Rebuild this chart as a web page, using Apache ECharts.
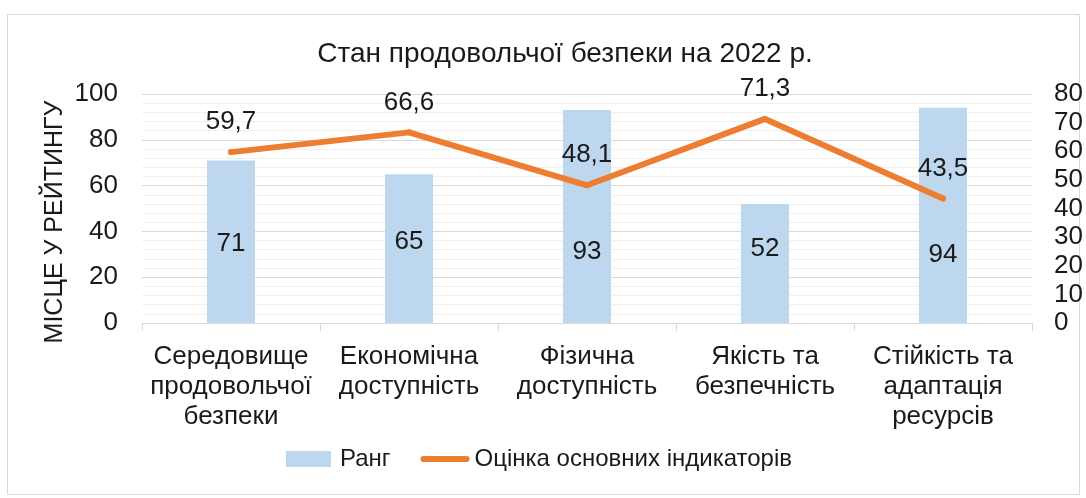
<!DOCTYPE html>
<html>
<head>
<meta charset="utf-8">
<script src="https://cdn.jsdelivr.net/npm/echarts@6/dist/echarts.min.js"></script>
<style>
html,body{margin:0;padding:0;background:#fff;}
#chart{width:1086px;height:498px;}
</style>
</head>
<body>
<div id="chart"></div>
<script>
const categories = [
  'Середовище\nпродовольчої\nбезпеки',
  'Економічна\nдоступність',
  'Фізична\nдоступність',
  'Якість та\nбезпечність',
  'Стійкість та\nадаптація\nресурсів'
];
const rankValues = [71, 65, 93, 52, 94];
const scoreValues = [59.7, 66.6, 48.1, 71.3, 43.5];
const leftTicks = [0, 20, 40, 60, 80, 100];
const rightTicks = [0, 10, 20, 30, 40, 50, 60, 70, 80];

// layout: distance of each bar label from the bar base (px)
const barLabelDistance = [66, 68, 58, 61, 55];

const FONT = 'Liberation Sans, Arial, sans-serif';
const TXT = '#1a1a1a';

const chart = echarts.init(document.getElementById('chart'));
const fmt = v => String(v).replace('.', ',');

chart.setOption({
  animation: false,
  textStyle: { fontFamily: FONT, color: TXT },
  title: {
    text: 'Стан продовольчої безпеки на 2022 р.',
    left: 560, textAlign: 'center', top: 35,
    textStyle: { fontFamily: FONT, fontSize: 28, fontWeight: 'normal', color: TXT }
  },
  graphic: [
    { type: 'rect', shape: { x: 7.5, y: 14.5, width: 1072, height: 480 },
      style: { fill: 'none', stroke: '#d9d9d9', lineWidth: 1 }, silent: true, z: -1 },
    { type: 'text', x: 55, y: 222, rotation: Math.PI / 2,
      style: { text: 'МІСЦЕ У РЕЙТИНГУ', fontFamily: FONT, fontSize: 25, fill: TXT,
               align: 'center', verticalAlign: 'middle' } }
  ],
  legend: {
    left: 281, top: 442, itemGap: 30, itemWidth: 49, itemHeight: 16,
    textStyle: { fontFamily: FONT, fontSize: 24, color: TXT },
    data: [
      { name: 'Ранг', icon: 'path://M0,0 L45,0 L45,16 L0,16 Z M49,0' },
      { name: 'Оцінка основних індикаторів',
        icon: 'path://M0,0 M0,16 M3,5 L46,5 A3,3 0 0 1 46,11 L3,11 A3,3 0 0 1 3,5 Z' }
    ]
  },
  grid: { left: 142, right: 54, top: 94, bottom: 175 },
  xAxis: {
    type: 'category', data: categories,
    axisLine: { show: true, lineStyle: { color: '#d9d9d9', width: 1 } },
    axisTick: { show: true, length: 8, lineStyle: { color: '#d9d9d9' } },
    axisLabel: { fontFamily: FONT, fontSize: 26, color: TXT, lineHeight: 30, margin: 19, interval: 0 }
  },
  yAxis: [
    {
      type: 'value', min: leftTicks[0], max: leftTicks[leftTicks.length - 1], interval: 20,
      axisLine: { show: false }, axisTick: { show: false },
      axisLabel: { fontFamily: FONT, fontSize: 26, color: TXT, margin: 24 },
      splitLine: { show: true, lineStyle: { color: '#d9d9d9', width: 1 } },
      minorTick: { show: false, splitNumber: 5 },
      minorSplitLine: { show: true, lineStyle: { color: '#f0f0f0', width: 1 } }
    },
    {
      type: 'value', min: rightTicks[0], max: rightTicks[rightTicks.length - 1], interval: 10,
      position: 'right',
      axisLine: { show: false }, axisTick: { show: false },
      axisLabel: { fontFamily: FONT, fontSize: 26, color: TXT, margin: 22 },
      splitLine: { show: false }
    }
  ],
  series: [
    {
      name: 'Ранг', type: 'bar', yAxisIndex: 0, barWidth: 48,
      itemStyle: { color: '#bdd7ee' },
      data: rankValues.map((v, i) => ({
        value: v,
        label: { show: true, position: 'insideBottom', distance: barLabelDistance[i] }
      })),
      label: { fontFamily: FONT, fontSize: 26, color: TXT }
    },
    {
      name: 'Оцінка основних індикаторів', type: 'line', yAxisIndex: 1,
      data: scoreValues,
      symbol: 'circle', symbolSize: 6,
      itemStyle: { color: '#ed7d31' },
      lineStyle: { color: '#ed7d31', width: 6, cap: 'round', join: 'round' },
      label: { show: true, position: 'top', distance: 14, fontFamily: FONT, fontSize: 26,
               color: TXT, formatter: p => fmt(p.value) },
      z: 3
    }
  ]
});
</script>
</body>
</html>
